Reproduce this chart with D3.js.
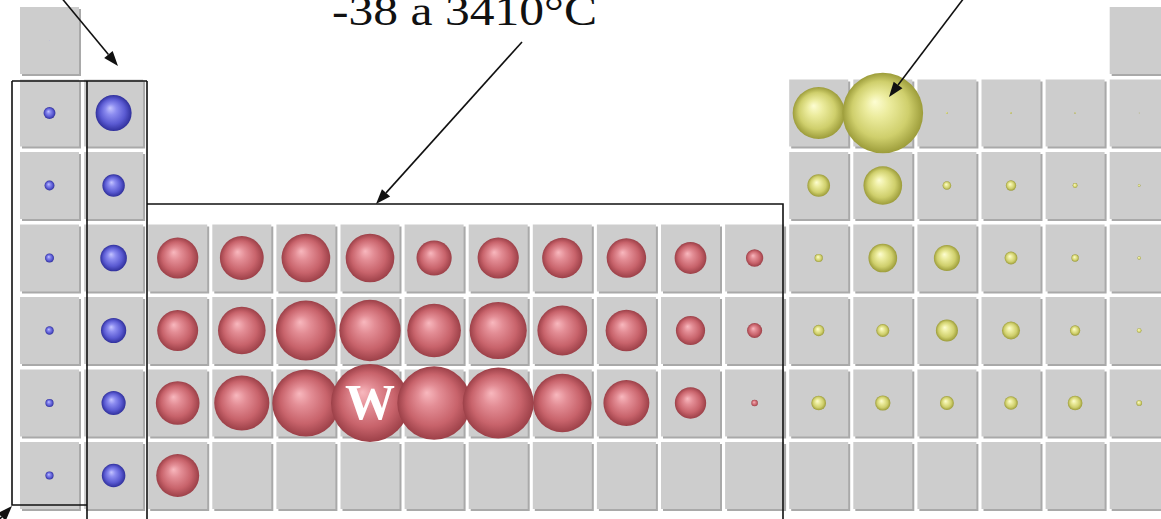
<!DOCTYPE html>
<html><head><meta charset="utf-8">
<script src="https://cdn.jsdelivr.net/npm/d3@7"></script>
<style>html,body{margin:0;padding:0;background:#fff;overflow:hidden}</style>
</head><body><svg id="chart" width="1161" height="519"></svg>
<script>
const groups = [1,2,3,4,5,6,7,8,9,10,11,12,13,14,15,16,17,18];
const periods = [1,2,3,4,5,6,7];
const N = null;   // no box in the table
const E = "";     // box without sphere
const mpPeriod1 = [-259, N,N,N,N,N,N,N,N,N,N,N,N,N,N,N,N, -272];
const mpPeriod2 = [181, 1287, N,N,N,N,N,N,N,N,N,N, 2076, 3550, -210, -218, -220, -249];
const mpPeriod3 = [98, 650, N,N,N,N,N,N,N,N,N,N, 660, 1414, 44, 115, -102, -189];
const mpPeriod4 = [63, 842, 1541, 1668, 1910, 1907, 1246, 1538, 1495, 1455, 1085, 420, 30, 938, 817, 221, -7, -157];
const mpPeriod5 = [39, 777, 1526, 1855, 2477, 2550, 2157, 2334, 1964, 1555, 962, 321, 157, 232, 631, 450, 114, -112];
const mpPeriod6 = [28, 727, 1663, 2233, 2850, 3410, 3180, 3045, 2410, 1772, 1064, -38, 304, 327, 271, 254, 302, -71];
const mpPeriod7 = [27, 700, 1627, E,E,E,E,E,E,E,E,E,E,E,E,E,E,E];
const labelledElement = {symbol: "W", period: 6, group: 6};
const titleText = "-38 a 3410°C";
const blockNames = ["s", "d", "p"];
const blockFirstGroup = [1, 3, 13];

const rows = [mpPeriod1, mpPeriod2, mpPeriod3, mpPeriod4, mpPeriod5, mpPeriod6, mpPeriod7];

// ---- STYLES ----
const gradStops = {
  s: [["0%","#c4c4ff"],["30%","#8c8cf0"],["70%","#5a5ad2"],["100%","#30309c"]],
  d: [["0%","#f8b8be"],["30%","#e38d95"],["70%","#c8636b"],["100%","#9c4048"]],
  p: [["0%","#fdfdd2"],["30%","#ecec9e"],["70%","#cfcf6c"],["100%","#9c9c3a"]]
};
const blockOf = g => g >= blockFirstGroup[2] ? "p" : (g >= blockFirstGroup[1] ? "d" : "s");

const svg = d3.select("#chart");
const defs = svg.append("defs");
blockNames.forEach(b => {
  const gr = defs.append("radialGradient").attr("id", "grad-" + b)
    .attr("cx", "50%").attr("cy", "50%").attr("r", "50%").attr("fx", "40%").attr("fy", "36%");
  gradStops[b].forEach(([o, c]) => gr.append("stop").attr("offset", o).attr("stop-color", c));
});

// ---- SCALES ----
const x = d3.scaleBand().domain(groups).range([20, 20 + 64.1 * (18 - 0.0796)]).paddingInner(0.0796).paddingOuter(0);
const y = d3.scaleBand().domain(periods).range([7, 7 + 72.5 * (7 - 0.0759)]).paddingInner(0.0759).paddingOuter(0);
const r = d3.scalePow().exponent(0.9).domain([0, 3410 + 273.15]).range([0, 39]);

// flatten
const cells = [];
rows.forEach((arr, i) => arr.forEach((v, j) => {
  if (v !== null) cells.push({period: periods[i], group: groups[j], mp: v});
}));

// ---- CELLS ----
const gCells = svg.append("g");
gCells.selectAll("rect.shadow").data(cells).join("rect").attr("class", "shadow")
  .attr("x", d => x(d.group) + 2).attr("y", d => y(d.period) + 2)
  .attr("width", x.bandwidth()).attr("height", y.bandwidth())
  .attr("fill", "#a9a9a9");
gCells.selectAll("rect.cell").data(cells).join("rect").attr("class", "cell")
  .attr("x", d => x(d.group)).attr("y", d => y(d.period))
  .attr("width", x.bandwidth()).attr("height", y.bandwidth())
  .attr("fill", "#cdcdcd");

// ---- SPHERES ----
const spheres = cells.filter(d => d.mp !== E);
svg.append("g").selectAll("circle").data(spheres).join("circle")
  .attr("cx", d => x(d.group) + x.bandwidth() / 2)
  .attr("cy", d => y(d.period) + y.bandwidth() / 2)
  .attr("r", d => r(Math.max(0, d.mp + 273.15)))
  .attr("fill", d => "url(#grad-" + blockOf(d.group) + ")");

// W label
svg.append("text")
  .attr("x", x(labelledElement.group) + x.bandwidth() / 2)
  .attr("y", y(labelledElement.period) + y.bandwidth() / 2 + 16)
  .attr("text-anchor", "middle")
  .attr("font-family", "'Liberation Serif', 'Times New Roman', serif")
  .attr("font-weight", "bold").attr("font-size", 50).attr("fill", "#fff")
  .text(labelledElement.symbol);

// ---- ANNOTATIONS ----
const ann = svg.append("g").attr("stroke", "#111").attr("stroke-width", 1.6).attr("fill", "none");
// box round group 1
ann.append("path").attr("d", "M12,81 L87,81 M12,81 L12,505 L87,505");
// box round group 2
ann.append("path").attr("d", "M87,81 L147,81 M87,81 L87,530 M147,81 L147,530");
// box round transition metals
ann.append("path").attr("d", "M147,204 L783,204 L783,530");

function arrow(x1, y1, x2, y2) {
  const a = Math.atan2(y2 - y1, x2 - x1), L = 15, W = 5.5;
  const bx = x2 - L * Math.cos(a), by = y2 - L * Math.sin(a);
  ann.append("line").attr("x1", x1).attr("y1", y1).attr("x2", bx).attr("y2", by);
  ann.append("path")
    .attr("d", `M${x2},${y2} L${bx + W * Math.sin(a)},${by - W * Math.cos(a)} L${bx - W * Math.sin(a)},${by + W * Math.cos(a)} Z`)
    .attr("fill", "#111").attr("stroke", "none");
}
arrow(55, -10, 118, 66);
arrow(522, 42, 376, 204);
arrow(970, -10, 889, 97);
arrow(-20, 540, 12, 506);

svg.append("text")
  .attr("x", 332).attr("y", 25)
  .attr("font-family", "'Liberation Serif', 'Times New Roman', serif")
  .attr("font-size", 42).attr("fill", "#111")
  .attr("textLength", 265).attr("lengthAdjust", "spacingAndGlyphs")
  .text(titleText);
</script></body></html>
